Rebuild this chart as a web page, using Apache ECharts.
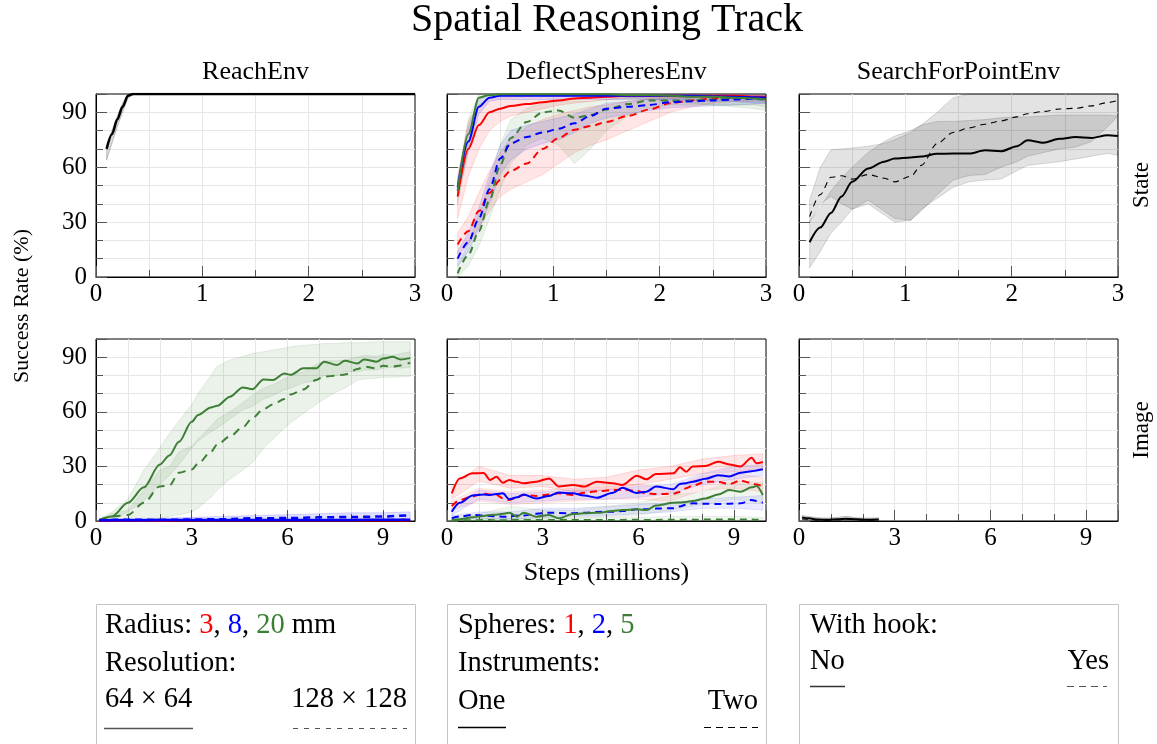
<!DOCTYPE html>
<html>
<head>
<meta charset="utf-8">
<script src="https://cdn.jsdelivr.net/npm/echarts@6/dist/echarts.min.js"></script>
<style>
html,body{margin:0;padding:0;background:#fff;}
#chart{width:1157px;height:744px;}
</style>
</head>
<body>
<div id="chart"></div>
<script>
// ---------------- DATA ----------------
const columnTitles = ['ReachEnv', 'DeflectSpheresEnv', 'SearchForPointEnv'];
const rowTitles = ['State', 'Image'];
const chartTitle = 'Spatial Reasoning Track';
const yAxisTitle = 'Success Rate (%)';
const xAxisTitle = 'Steps (millions)';

// ReachEnv - State
const reachStateX    = [0.1, 0.15, 0.2, 0.25, 0.3, 0.35, 0.5, 1.0, 1.5, 2.0, 2.5, 3.0];
const reachStateMean = [70, 78, 86, 93, 99, 100, 100, 100, 100, 100, 100, 100];
const reachStateLo   = [64, 73, 82, 90, 97.5, 100, 100, 100, 100, 100, 100, 100];
const reachStateHi   = [72, 80, 88, 95, 100, 100, 100, 100, 100, 100, 100, 100];

// DeflectSpheresEnv - State (One instrument = solid, Two = dashed; spheres 1 red, 2 blue, 5 green)
const deflStateX = [0.1, 0.2, 0.3, 0.4, 0.5, 0.6, 0.75, 0.9, 1.05, 1.2, 1.35, 1.5, 1.7, 1.9, 2.1, 2.3, 2.5, 2.7, 2.9, 3.0];
const deflStateOneRed   = [44, 70, 83, 90, 92, 93.5, 94.5, 95.5, 96.5, 97.5, 98, 98.5, 99, 99, 99, 99, 99, 99, 98.5, 98.5];
const deflStateOneBlue  = [49, 74, 93, 98, 99, 99, 99, 99, 99, 99, 99, 99, 99, 99, 99, 99, 98.8, 98.5, 98.2, 98];
const deflStateOneGreen = [47, 78, 98, 99.5, 99.8, 99.8, 99.8, 99.8, 99.8, 99.8, 99.8, 99.8, 99.5, 99.5, 99, 98.5, 98.5, 98, 97.5, 97];
const deflStateTwoRed   = [17.8, 25, 36, 46, 53, 58, 62, 70, 76, 80.5, 82.5, 84.7, 88, 91.5, 95, 96.5, 97.5, 97.8, 98, 98];
const deflStateTwoBlue  = [10, 19, 32, 48, 64.7, 73, 76.5, 79, 81, 84, 88, 92, 93, 94, 95.5, 96, 96.5, 97, 97.5, 98];
const deflStateTwoGreen = [2, 12, 25, 42, 61, 76, 84.7, 90, 91, 87, 88.5, 91.5, 94.5, 96.5, 96.5, 96.5, 97, 97.5, 97.5, 96.5];
const deflStateOneRedLo   = [32, 55, 70, 80, 85, 88, 90, 92, 94, 95, 96, 97, 97.5, 98, 98, 98, 98, 98, 97, 97];
const deflStateOneRedHi   = [55, 85, 94, 97, 98, 98.5, 99, 99, 99, 99, 99.5, 99.5, 99.5, 99.5, 99.5, 99.5, 99.5, 99.5, 99.5, 99.5];
const deflStateOneBlueLo  = [44, 68, 89, 96, 97, 97, 97, 97, 97, 97, 97, 97, 97, 97, 97, 96.5, 96, 96, 95, 95];
const deflStateOneBlueHi  = [54, 82, 97, 100, 100, 100, 100, 100, 100, 100, 100, 100, 100, 100, 100, 100, 100, 100, 100, 100];
const deflStateOneGreenLo = [40, 70, 94, 98, 99, 99, 99, 99, 99, 99, 99, 99, 98, 97, 96, 95, 94, 93, 92, 91];
const deflStateOneGreenHi = [52, 86, 100, 100, 100, 100, 100, 100, 100, 100, 100, 100, 100, 100, 100, 100, 100, 100, 100, 100];
const deflStateTwoRedLo   = [12, 18, 27, 36, 44, 48, 52, 56, 62, 68, 72, 75, 80, 85, 90, 93, 95, 96, 96, 96];
const deflStateTwoRedHi   = [24, 33, 46, 58, 68, 76, 82, 86, 89, 91, 93, 94, 96, 97.5, 98, 98.5, 99, 99, 99, 99];
const deflStateTwoBlueLo  = [6, 14, 26, 40, 56, 64, 70, 73, 75, 79, 84, 87, 89, 91, 92.5, 93, 93.5, 94, 94.5, 95];
const deflStateTwoBlueHi  = [14, 24, 38, 56, 72, 80, 83, 85, 87, 89, 92, 95, 96, 97, 97.5, 98, 98.5, 99, 99, 99];
const deflStateTwoGreenLo = [0, 6, 17, 32, 48, 62, 72, 76, 72, 62, 70, 80, 88, 92, 94, 94, 94, 94, 94, 93];
const deflStateTwoGreenHi = [6, 18, 34, 52, 72, 86, 92, 95, 96, 96, 96, 97, 98, 99, 99, 99, 99, 99, 99, 99];

// SearchForPointEnv - State (hook: No = solid, Yes = dashed)
const searchStateX = [0.1, 0.2, 0.3, 0.4, 0.5, 0.65, 0.8, 0.9, 1.05, 1.15, 1.3, 1.45, 1.6, 1.75, 1.9, 2.05, 2.15, 2.3, 2.45, 2.6, 2.75, 2.9, 3.0];
const searchStateNo   = [19, 27, 35, 44, 52, 59.3, 63, 64.7, 65.3, 65.8, 67.3, 67.5, 67.5, 69.2, 68.7, 71.5, 74.7, 73.4, 75.5, 76.5, 76, 77.4, 77];
const searchStateYes  = [33, 45, 54.5, 55.3, 53.5, 56, 54, 52, 55, 61, 73, 79, 81.5, 83.5, 85.3, 87.5, 89.2, 90.5, 91.8, 92.2, 93.5, 95.3, 96.5];
const searchStateNoLo  = [5, 14, 24, 30, 37, 42, 36, 32, 31, 37, 43, 49, 52, 53, 53.5, 58, 61, 62, 63, 64.5, 66, 67.5, 66.5];
const searchStateNoHi  = [30, 38, 47, 54, 60, 68, 74, 77, 80, 83, 85, 85, 85.5, 86, 87, 87.5, 87.5, 88, 88.5, 88.5, 88.5, 88.5, 88];
const searchStateYesLo = [30, 40, 44, 40, 37, 40, 34, 30, 31, 36, 45, 53, 55.5, 56, 60, 63, 66, 68, 70, 71, 74, 82, 88];
const searchStateYesHi = [42, 60, 69.5, 70, 70.5, 71.5, 73, 75, 79, 83, 90, 98, 100, 100, 100, 100, 100, 100, 100, 100, 100, 100, 100];

// ReachEnv - Image (Resolution 64x64 = solid, 128x128 = dashed; radius 3 red, 8 blue, 20 green)
const reachImgX = [0.1, 0.5, 1, 1.5, 2, 2.3, 2.6, 3, 3.2, 3.6, 3.8, 4.2, 4.6, 4.9, 5.25, 5.55, 5.9, 6.1, 6.5, 6.9, 7.15, 7.55, 7.8, 8.2, 8.4, 8.8, 9.0, 9.3, 9.55, 9.85];
const reachImgGreen64  = [0.5, 2.5, 10, 18.5, 31, 36, 43.5, 54.5, 58.3, 62.4, 63.3, 68.3, 73.4, 72.4, 77.8, 77.5, 81.1, 80.3, 83.9, 83.9, 87.5, 85.7, 88, 86.6, 88.8, 87.5, 89.3, 90.2, 88.8, 89.5];
const reachImgGreen128 = [0.3, 2.5, 3.3, 10, 19, 19.5, 26.5, 28.3, 31.5, 38, 42, 46.5, 51.5, 56.5, 61.5, 64, 67, 69.5, 72.3, 77.5, 79.4, 79.8, 80.5, 83.5, 84.8, 83.9, 85.3, 84.8, 85.5, 87];
const reachImgGreen64Lo  = [0, 0.5, 5, 11, 20, 25, 31, 40, 44, 49, 51, 56, 61, 63, 67, 69, 72, 73, 76, 77, 80, 80, 82, 82, 83, 83, 84, 84.5, 84, 84.5];
const reachImgGreen64Hi  = [1, 5, 12, 28, 40, 48, 55, 64, 70, 80, 85, 88.5, 90.5, 92, 93, 94, 95, 95.8, 96.5, 97, 97.5, 97.5, 98, 98, 98, 98.5, 98.5, 98.5, 98.5, 98.5];
const reachImgGreen128Lo = [0, 0, 0, 0, 1.5, 2.5, 3.5, 5, 7, 13, 17, 23, 28, 32, 40, 45, 51, 54, 59, 64, 67, 71, 73, 77.5, 78, 78.5, 79, 79, 79.3, 79.5];
const reachImgGreen128Hi = [0.5, 4, 6, 17, 28, 30, 38, 41, 45, 52, 56, 60, 65, 69, 73, 75, 78, 80, 82, 86, 88, 88, 88.5, 90, 91, 90.5, 91.5, 91, 92, 93];
const reachImgLowX = [0.1, 1, 2, 3, 4, 5, 6, 7, 8, 9, 9.85];
const reachImgRed64   = [0.2, 0.2, 0.2, 0.3, 0.3, 0.3, 0.3, 0.3, 0.3, 0.3, 0.3];
const reachImgRed128  = [0.2, 0.3, 0.3, 0.4, 0.5, 0.5, 0.6, 0.6, 0.7, 0.7, 0.8];
const reachImgBlue64  = [0.4, 0.4, 0.5, 0.5, 0.5, 0.6, 0.6, 0.6, 0.6, 0.7, 0.7];
const reachImgBlue128 = [0.5, 0.7, 0.6, 0.8, 1, 1.5, 1.6, 2, 2.2, 2.5, 3.2];
const reachImgBlueLo  = [0, 0, 0, 0, 0, 0, 0, 0, 0.5, 0.5, 0.8];
const reachImgBlueHi  = [1, 1.5, 1.5, 2, 2.5, 3, 3.5, 4, 4.5, 4.5, 5];

// DeflectSpheresEnv - Image
const deflImgX = [0.15, 0.4, 0.8, 1.15, 1.35, 1.55, 1.75, 1.95, 2.2, 2.4, 2.8, 3.2, 3.5, 3.95, 4.3, 4.7, 5.2, 5.5, 5.95, 6.25, 6.55, 7.1, 7.3, 7.5, 7.7, 8.1, 8.5, 8.85, 9.2, 9.55, 9.7, 9.9];
const deflImgOneRed   = [15.2, 23.4, 26.2, 26.4, 22.5, 24.3, 21, 22.5, 21.5, 20.7, 21.6, 23.4, 19, 19.8, 18.9, 21.6, 20.7, 19.8, 24.9, 22.9, 25.8, 26.2, 29.5, 27.1, 29.9, 30.2, 32.6, 31.1, 29.9, 34.8, 31.7, 32.4];
const deflImgOneBlue  = [5.1, 10, 14, 14.5, 14.3, 14.8, 15.2, 12, 13, 14.5, 12.3, 13.8, 15.7, 15.2, 14, 12.8, 15.5, 18.3, 15.4, 16.1, 18.9, 17.5, 20.3, 20.8, 21.6, 23.2, 25.2, 24.5, 26.5, 27.3, 27.8, 28.4];
const deflImgOneGreen = [0.5, 1, 2, 2.8, 3.3, 3.5, 4, 4.6, 2.4, 4.6, 2.4, 3.3, 1.5, 3.8, 4.2, 4.5, 5.5, 6, 6.4, 6, 8.5, 10, 10.2, 10.5, 11, 12.4, 14.5, 17, 16.1, 18.5, 19.2, 14.3];
const deflImgTwoRed   = [8.2, 11.5, 13.5, 15.2, 14.5, 14.3, 12.5, 11.5, 13, 14.3, 13.8, 14.5, 15.2, 14.3, 15.5, 16.3, 17, 17.2, 16.5, 15.2, 14.8, 15, 16, 18, 19.4, 21.5, 21.5, 20.3, 22.2, 20.8, 20, 19];
const deflImgTwoBlue  = [1.5, 2.5, 3.3, 3, 2.8, 2.5, 2.4, 2.4, 3, 3, 4, 4.6, 4.4, 4.2, 4.5, 5, 5.1, 5.5, 6.4, 6.5, 6.8, 7, 8, 9, 9.7, 9.5, 9.3, 9.5, 9.7, 11.5, 11, 10];
const deflImgTwoGreen = [0.3, 0.4, 0.4, 0.5, 0.5, 0.4, 0.4, 0.5, 0.5, 0.5, 0.6, 0.5, 0.5, 0.6, 0.6, 0.5, 0.6, 0.6, 0.7, 0.6, 0.6, 0.7, 0.7, 0.8, 0.7, 0.8, 0.8, 0.9, 0.8, 0.8, 0.7, 0.6];
const deflImgBandX = [0.15, 1, 2, 3, 4, 5, 6, 7, 8, 9, 9.9];
const deflImgOneRedLo   = [12, 22, 18, 19, 16, 17, 20, 23, 26, 27, 29];
const deflImgOneRedHi   = [19, 30, 25, 25, 23, 24, 28, 30, 34, 36, 37];
const deflImgTwoRedLo   = [6, 11, 9, 10, 11, 12, 12, 11, 17, 18, 16];
const deflImgTwoRedHi   = [11, 18, 16, 17, 18, 19, 20, 18, 25, 26, 24];
const deflImgOneBlueLo  = [3, 12, 10, 11, 12, 12, 13, 15, 20, 23, 25];
const deflImgOneBlueHi  = [7, 17, 15, 16, 17, 17, 19, 20, 26, 30, 31];
const deflImgTwoBlueLo  = [0.5, 1.5, 1, 2, 2.5, 3, 4, 5, 7, 7, 6];
const deflImgTwoBlueHi  = [3, 5, 5, 7, 7, 8, 9, 10, 12, 13, 14];
const deflImgOneGreenLo = [0, 0.5, 1, 1, 1.5, 2.5, 3, 6, 9, 12, 10];
const deflImgOneGreenHi = [1, 4, 8, 6, 6, 8, 10, 14, 16, 22, 21];
const deflImgTwoGreenLo = [0, 0, 0, 0, 0, 0, 0, 0, 0, 0, 0];
const deflImgTwoGreenHi = [1, 1.5, 1.5, 2, 1.5, 2, 2, 2.5, 2.5, 2.5, 2];

// SearchForPointEnv - Image
const searchImgX   = [0.1, 0.3, 0.6, 0.9, 1.2, 1.5, 1.8, 2.1, 2.5];
const searchImgNo  = [2, 1.5, 0.8, 0.7, 0.9, 1.3, 0.9, 0.7, 0.8];
const searchImgYes = [1.2, 1, 0.6, 0.5, 0.7, 1.0, 0.7, 0.6, 0.6];
const searchImgLo  = [0.5, 0.3, 0, 0, 0, 0.2, 0, 0, 0];
const searchImgHi  = [3, 2.5, 1.8, 1.6, 2, 2.6, 1.8, 1.6, 1.8];

// axis setup
const xMaxRow = [3, 10];
const xMinorStepRow = [0.5, 1];
const xMajorStepRow = [1, 3];
const yMax = 100;
const yMinorStep = 10;
const yMajorStep = 30;

// ---------------- STYLE / LAYOUT ----------------
const FONT = '"Liberation Serif", "DejaVu Serif", serif';
const RED = '#ff0000', BLUE = '#0000ff', GREEN = '#3d7f35', BLACK = '#000000';
const BAND = { [RED]: 'rgba(255,0,0,', [BLUE]: 'rgba(0,0,255,', [GREEN]: 'rgba(61,127,53,', [BLACK]: 'rgba(0,0,0,' };
const colLeft = [96, 447, 799];
const colW = 319;
const rowTop = [94, 339];
const rowH = [183, 182];
const TICK = 25;

function isMult(v, step) { return Math.abs(v / step - Math.round(v / step)) < 1e-6; }

const grids = [], xAxes = [], yAxes = [];
for (let r = 0; r < 2; r++) {
  for (let c = 0; c < 3; c++) {
    const g = r * 3 + c;
    grids.push({ left: colLeft[c], top: rowTop[r], width: colW, height: rowH[r], show: true,
      borderColor: '#000', borderWidth: 1, backgroundColor: 'transparent', containLabel: false });
    const xmax = xMaxRow[r], xmin = xMinorStepRow[r], xmaj = xMajorStepRow[r];
    xAxes.push({ gridIndex: g, type: 'value', min: 0, max: xmax, interval: xmin, position: 'bottom',
      axisLine: { show: true, lineStyle: { color: '#000', width: 1 } },
      axisTick: { show: true, inside: true, length: 7, lineStyle: { color: '#555' } },
      splitLine: { show: true, showMinLine: false, showMaxLine: false, lineStyle: { color: '#e6e6e6', width: 1 } },
      axisLabel: { show: true, color: '#000', fontFamily: FONT, fontSize: TICK, margin: 5,
        formatter: v => isMult(v, xmaj) ? String(Math.round(v)) : '' }
    });
    xAxes.push({ gridIndex: g, type: 'value', min: 0, max: xmax, interval: xmaj, position: 'bottom',
      axisLine: { show: false }, splitLine: { show: false }, axisLabel: { show: false },
      axisTick: { show: true, inside: true, length: 11, lineStyle: { color: '#555' } } });
    yAxes.push({ gridIndex: g, type: 'value', min: 0, max: yMax, interval: yMinorStep, position: 'left',
      axisLine: { show: true, lineStyle: { color: '#000', width: 1 } },
      axisTick: { show: true, inside: true, length: 7, lineStyle: { color: '#555' } },
      splitLine: { show: true, showMinLine: false, showMaxLine: false, lineStyle: { color: '#e6e6e6', width: 1 } },
      axisLabel: { show: c === 0, color: '#000', fontFamily: FONT, fontSize: TICK, margin: 9,
        formatter: v => (v % yMajorStep === 0 && v < yMax) ? String(v) : '' }
    });
    yAxes.push({ gridIndex: g, type: 'value', min: 0, max: yMax, interval: yMajorStep, position: 'left',
      axisLine: { show: false }, splitLine: { show: false }, axisLabel: { show: false },
      axisTick: { show: true, inside: true, length: 11, lineStyle: { color: '#555' } } });
  }
}

const series = [];
function addLine(g, xs, ys, color, dashed, width, dash) {
  series.push({ type: 'line', xAxisIndex: 2 * g, yAxisIndex: 2 * g,
    data: xs.map((x, i) => [x, ys[i]]), symbol: 'none', showSymbol: false,
    smooth: 0.3, smoothMonotone: 'x', clip: true, silent: true, z: 5,
    lineStyle: { color: color, width: width, type: dashed ? (dash || [7, 5]) : 'solid' } });
}
function addBand(g, xs, lo, hi, color, alpha) {
  const pts = xs.map((x, i) => [x, lo[i], hi[i]]);
  const base = BAND[color];
  series.push({ type: 'custom', xAxisIndex: 2 * g, yAxisIndex: 2 * g, data: pts,
    encode: { x: 0, y: [1, 2] }, clip: true, silent: true, z: 2,
    renderItem: function (params, api) {
      if (params.dataIndex !== 0) return null;
      const top = pts.map(d => api.coord([d[0], d[2]]));
      const bot = pts.map(d => api.coord([d[0], d[1]])).reverse();
      return { type: 'polygon', shape: { points: top.concat(bot) },
        style: { fill: base + alpha + ')', stroke: base + (alpha * 1.8) + ')', lineWidth: 0.7 } };
    } });
}

// Panel 0: ReachEnv State
addBand(0, reachStateX, reachStateLo, reachStateHi, BLACK, 0.15);
addLine(0, reachStateX, reachStateMean, BLACK, false, 2.5);

// Panel 1: DeflectSpheresEnv State
addBand(1, deflStateX, deflStateTwoRedLo, deflStateTwoRedHi, RED, 0.1);
addBand(1, deflStateX, deflStateTwoBlueLo, deflStateTwoBlueHi, BLUE, 0.1);
addBand(1, deflStateX, deflStateTwoGreenLo, deflStateTwoGreenHi, GREEN, 0.1);
addBand(1, deflStateX, deflStateOneRedLo, deflStateOneRedHi, RED, 0.1);
addBand(1, deflStateX, deflStateOneBlueLo, deflStateOneBlueHi, BLUE, 0.1);
addBand(1, deflStateX, deflStateOneGreenLo, deflStateOneGreenHi, GREEN, 0.1);
addLine(1, deflStateX, deflStateTwoRed, RED, true, 2);
addLine(1, deflStateX, deflStateTwoGreen, GREEN, true, 2);
addLine(1, deflStateX, deflStateTwoBlue, BLUE, true, 2);
addLine(1, deflStateX, deflStateOneRed, RED, false, 2);
addLine(1, deflStateX, deflStateOneBlue, BLUE, false, 2);
addLine(1, deflStateX, deflStateOneGreen, GREEN, false, 2);

// Panel 2: SearchForPointEnv State
addBand(2, searchStateX, searchStateNoLo, searchStateNoHi, BLACK, 0.11);
addBand(2, searchStateX, searchStateYesLo, searchStateYesHi, BLACK, 0.11);
addLine(2, searchStateX, searchStateYes, BLACK, true, 1.1, [6, 5]);
addLine(2, searchStateX, searchStateNo, BLACK, false, 2);

// Panel 3: ReachEnv Image
addBand(3, reachImgX, reachImgGreen64Lo, reachImgGreen64Hi, GREEN, 0.1);
addBand(3, reachImgX, reachImgGreen128Lo, reachImgGreen128Hi, GREEN, 0.1);
addBand(3, reachImgLowX, reachImgBlueLo, reachImgBlueHi, BLUE, 0.12);
addLine(3, reachImgX, reachImgGreen128, GREEN, true, 2, [8, 6]);
addLine(3, reachImgX, reachImgGreen64, GREEN, false, 2);
addLine(3, reachImgLowX, reachImgRed64, RED, false, 2);
addLine(3, reachImgLowX, reachImgRed128, RED, true, 2);
addLine(3, reachImgLowX, reachImgBlue64, BLUE, false, 2.5);
addLine(3, reachImgLowX, reachImgBlue128, BLUE, true, 2.5);

// Panel 4: DeflectSpheresEnv Image
addBand(4, deflImgBandX, deflImgOneRedLo, deflImgOneRedHi, RED, 0.1);
addBand(4, deflImgBandX, deflImgTwoRedLo, deflImgTwoRedHi, RED, 0.08);
addBand(4, deflImgBandX, deflImgOneBlueLo, deflImgOneBlueHi, BLUE, 0.08);
addBand(4, deflImgBandX, deflImgTwoBlueLo, deflImgTwoBlueHi, BLUE, 0.08);
addBand(4, deflImgBandX, deflImgOneGreenLo, deflImgOneGreenHi, GREEN, 0.08);
addBand(4, deflImgBandX, deflImgTwoGreenLo, deflImgTwoGreenHi, GREEN, 0.08);
addLine(4, deflImgX, deflImgTwoGreen, GREEN, true, 2);
addLine(4, deflImgX, deflImgTwoBlue, BLUE, true, 2);
addLine(4, deflImgX, deflImgTwoRed, RED, true, 2);
addLine(4, deflImgX, deflImgOneGreen, GREEN, false, 2);
addLine(4, deflImgX, deflImgOneBlue, BLUE, false, 2);
addLine(4, deflImgX, deflImgOneRed, RED, false, 2);

// Panel 5: SearchForPointEnv Image
addBand(5, searchImgX, searchImgLo, searchImgHi, BLACK, 0.15);
addLine(5, searchImgX, searchImgYes, BLACK, true, 1.2, [6, 5]);
addLine(5, searchImgX, searchImgNo, BLACK, false, 2);

// ---------------- TEXT / LEGEND GRAPHICS ----------------
function txt(text, x, y, size, align, vAlign, extra) {
  return Object.assign({ type: 'text', x: x, y: y, silent: true, z: 10,
    style: { text: text, fill: '#000', fontFamily: FONT, fontSize: size,
      align: align, textAlign: align, verticalAlign: vAlign, textVerticalAlign: vAlign } }, extra || {});
}
function richTxt(text, x, y, size, rich) {
  const r = {};
  Object.keys(rich).forEach(k => { r[k] = { fill: rich[k], color: rich[k], fontFamily: FONT, fontSize: size }; });
  return { type: 'text', x: x, y: y, silent: true, z: 10,
    style: { text: text, rich: r, fill: '#000', fontFamily: FONT, fontSize: size,
      align: 'left', textAlign: 'left', verticalAlign: 'middle', textVerticalAlign: 'middle' } };
}
function hline(x1, x2, y, color, width, dash) {
  return { type: 'line', silent: true, z: 10, shape: { x1: x1, y1: y, x2: x2, y2: y },
    style: { stroke: color, lineWidth: width, lineDash: dash || null } };
}
function box(x) {
  return { type: 'rect', silent: true, z: 9, shape: { x: x + 0.5, y: 604.5, width: colW, height: 160 },
    style: { fill: '#fff', stroke: '#c4c4c4', lineWidth: 1 } };
}

const LEG = 28.5;
const graphics = [
  txt(chartTitle, 607, 20, 40, 'center', 'middle'),
  txt(columnTitles[0], colLeft[0] + colW / 2, 72, 26, 'center', 'middle'),
  txt(columnTitles[1], colLeft[1] + colW / 2, 72, 26, 'center', 'middle'),
  txt(columnTitles[2], colLeft[2] + colW / 2, 72, 26, 'center', 'middle'),
  txt(rowTitles[0], 1142, 185, 23, 'center', 'middle', { rotation: Math.PI / 2 }),
  txt(rowTitles[1], 1142, 430, 23, 'center', 'middle', { rotation: Math.PI / 2 }),
  txt(yAxisTitle, 22, 306, 22, 'center', 'middle', { rotation: Math.PI / 2 }),
  txt(xAxisTitle, colLeft[1] + colW / 2, 573, 26, 'center', 'middle'),
  box(colLeft[0]), box(colLeft[1]), box(colLeft[2]),
  // box 1
  richTxt('Radius: {r|3}, {b|8}, {g|20} mm', 105, 626, LEG, { r: RED, b: BLUE, g: GREEN }),
  txt('Resolution:', 105, 664, LEG, 'left', 'middle'),
  txt('64 × 64', 105, 700, LEG, 'left', 'middle'),
  txt('128 × 128', 407, 700, LEG, 'right', 'middle'),
  hline(104, 193, 728.5, '#555', 1.3),
  hline(293, 407, 728.5, '#555', 1.1, [5, 6]),
  // box 2
  richTxt('Spheres: {r|1}, {b|2}, {g|5}', 458, 626, LEG, { r: RED, b: BLUE, g: GREEN }),
  txt('Instruments:', 458, 664, LEG, 'left', 'middle'),
  txt('One', 458, 702, LEG, 'left', 'middle'),
  txt('Two', 758, 702, LEG, 'right', 'middle'),
  hline(458, 506, 727.5, '#000', 1.3),
  hline(704, 758, 727.5, '#000', 1.1, [7, 5]),
  // box 3
  txt('With hook:', 810, 626, LEG, 'left', 'middle'),
  txt('No', 810, 662, LEG, 'left', 'middle'),
  txt('Yes', 1109, 662, LEG, 'right', 'middle'),
  hline(810, 845, 686.5, '#333', 1.3),
  hline(1067, 1107, 686.5, '#555', 1.1, [7, 5])
];

const chart = echarts.init(document.getElementById('chart'), null, { renderer: 'canvas' });
chart.setOption({
  animation: false,
  backgroundColor: '#fff',
  grid: grids,
  xAxis: xAxes,
  yAxis: yAxes,
  series: series,
  graphic: { elements: graphics }
});
</script>
</body>
</html>
